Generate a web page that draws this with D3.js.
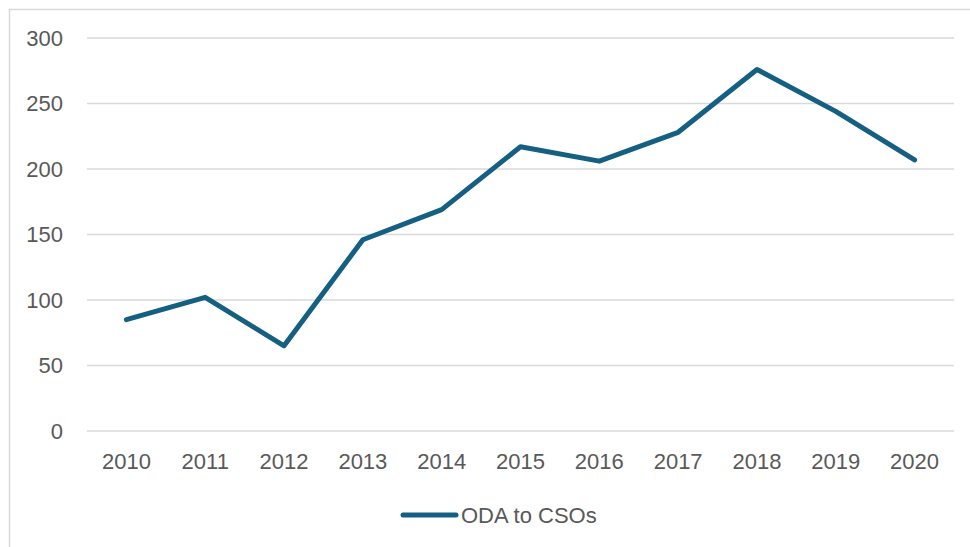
<!DOCTYPE html>
<html>
<head>
<meta charset="utf-8">
<script src="https://cdn.jsdelivr.net/npm/d3@7"></script>
<style>
  body { margin:0; background:#fff; }
  svg text { font-family: "Liberation Sans", Arial, sans-serif; fill:#595959; }
</style>
</head>
<body>
<div class="canvas"></div>
<script>
var years = ['2010','2011','2012','2013','2014','2015','2016','2017','2018','2019','2020'];
var odaToCsos = [85, 102, 65, 146, 169, 217, 206, 228, 276, 244, 207];
var yTicks = [0, 50, 100, 150, 200, 250, 300];
var seriesName = 'ODA to CSOs';

var W = 970, H = 547;
var margin = {t:38, r:16, b:116, l:87};
var width = W - margin.l - margin.r,
    height = H - margin.t - margin.b;

var svg = d3.select('.canvas')
    .append('svg')
    .attr('width', W)
    .attr('height', H);

// chart frame (only top and left edges show in the picture)
svg.append('path')
    .attr('d', 'M9.5,' + H + 'V9.5H' + W)
    .style('fill', 'none')
    .style('stroke', '#d9d9d9')
    .style('stroke-width', 1.5);

var plot = svg.append('g')
    .attr('transform', 'translate(' + margin.l + ',' + margin.t + ')');

var x = d3.scaleBand().domain(years).range([0, width]);
var y = d3.scaleLinear().domain([0, 300]).range([height, 0]);

// gridlines
plot.selectAll('.grid')
    .data(yTicks)
    .enter()
    .append('line')
    .attr('x1', 0)
    .attr('x2', width)
    .attr('y1', function(d){ return y(d); })
    .attr('y2', function(d){ return y(d); })
    .style('stroke', '#d9d9d9')
    .style('stroke-width', 1.5);

// y axis labels
var yAxis = d3.axisLeft(y).tickValues(yTicks).tickSize(0).tickPadding(24);
plot.append('g').call(yAxis)
    .call(function(g){ g.select('.domain').remove(); })
    .selectAll('text')
    .style('font-size', '22px')
    .style('font-family', '"Liberation Sans", Arial, sans-serif')
    .style('fill', '#595959');

// x axis labels
var xAxis = d3.axisBottom(x).tickSize(0).tickPadding(22);
plot.append('g')
    .attr('transform', 'translate(0,' + height + ')')
    .call(xAxis)
    .call(function(g){ g.select('.domain').remove(); })
    .selectAll('text')
    .style('font-size', '22px')
    .style('font-family', '"Liberation Sans", Arial, sans-serif')
    .style('fill', '#595959');

// series line
var line = d3.line()
    .x(function(d, i){ return x(years[i]) + x.bandwidth()/2; })
    .y(function(d){ return y(d); });

plot.append('path')
    .datum(odaToCsos)
    .attr('d', line)
    .style('fill', 'none')
    .style('stroke', '#156082')
    .style('stroke-width', 5)
    .style('stroke-linejoin', 'round')
    .style('stroke-linecap', 'round');

// legend
var legend = svg.append('g').attr('transform', 'translate(403,515)');
legend.append('line')
    .attr('x1', 0).attr('x2', 53)
    .style('stroke', '#156082')
    .style('stroke-width', 5)
    .style('stroke-linecap', 'round');
legend.append('text')
    .attr('x', 58)
    .attr('y', 8)
    .style('font-size', '22px')
    .text(seriesName);
</script>
</body>
</html>
